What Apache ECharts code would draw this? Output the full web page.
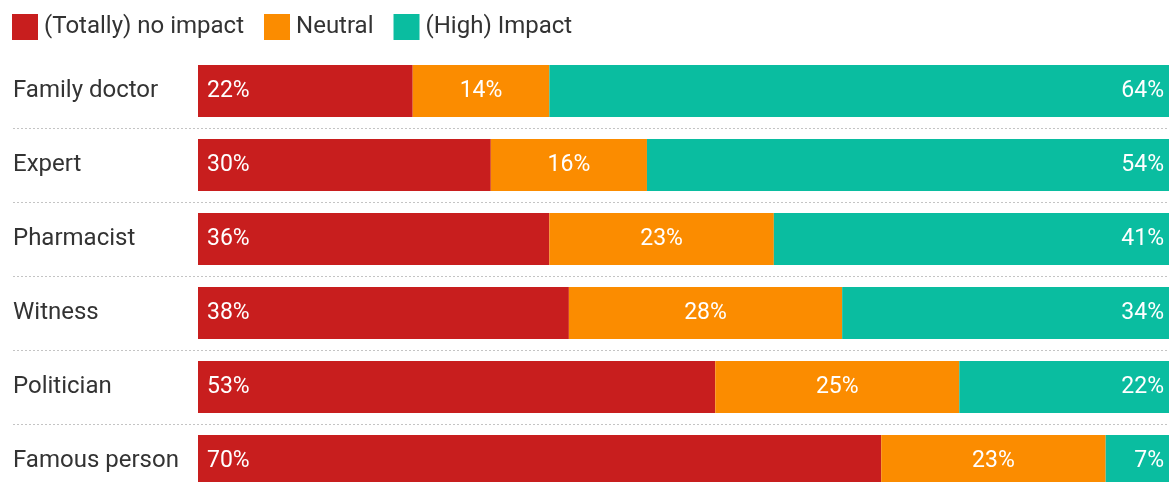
<!DOCTYPE html>
<html>
<head>
<meta charset="utf-8">
<script src="https://cdn.jsdelivr.net/npm/echarts@6/dist/echarts.min.js"></script>
<style>html,body{margin:0;padding:0;background:#fff;}#c{width:1169px;height:482px;}</style>
</head>
<body>
<div id="c"></div>
<script>
const categories = ['Family doctor', 'Expert', 'Pharmacist', 'Witness', 'Politician', 'Famous person'];
const seriesNames = ['(Totally) no impact', 'Neutral', '(High) Impact'];
const noImpact = [22, 30, 36, 38, 53, 70];
const neutral = [14, 16, 23, 28, 25, 23];
const highImpact = [64, 54, 41, 34, 22, 7];
const colors = ['#C81E1E', '#FB8C00', '#0ABDA0'];

const chart = echarts.init(document.getElementById('c'));
const FONT = 'Roboto';
const labelBase = { show: true, color: '#fff', fontFamily: FONT, fontSize: 23, formatter: '{c}%' };
chart.setOption({
  animation: false,
  textStyle: { fontFamily: FONT },
  legend: {
    left: 7, top: 9, itemWidth: 26, itemHeight: 26, itemGap: 20,
    icon: 'rect',
    textStyle: { fontSize: 24, color: '#333', fontFamily: FONT, padding: [0, 0, 0, 1] },
    data: seriesNames
  },
  grid: [
    { left: 198, right: -5, top: 54, height: 444, containLabel: false, outerBoundsMode: 'none' },
    { left: 13, right: 0, top: 54, height: 444, containLabel: false, outerBoundsMode: 'none' }
  ],
  xAxis: [
    { type: 'value', gridIndex: 0, min: 0, max: 100, show: false },
    { type: 'value', gridIndex: 1, min: 0, max: 100, show: false }
  ],
  yAxis: [
    {
      type: 'category', gridIndex: 0, data: categories, inverse: true,
      axisLine: { show: false }, axisTick: { show: false }, splitLine: { show: false },
      axisLabel: { show: false }
    },
    {
      type: 'category', gridIndex: 1, data: categories, inverse: true,
      axisLine: { show: false }, axisTick: { show: false },
      splitLine: { show: true, interval: function (i) { return i !== 0; }, lineStyle: { color: '#c4c4c4', width: 1, type: [2, 2] } },
      axisLabel: { show: true, inside: true, margin: 0, color: '#333', fontSize: 24, fontFamily: FONT, align: 'left' }
    }
  ],
  series: [
    {
      name: seriesNames[0], type: 'bar', stack: 's', data: noImpact, barWidth: 52,
      xAxisIndex: 0, yAxisIndex: 0, itemStyle: { color: colors[0] },
      label: Object.assign({}, labelBase, { position: 'insideLeft', distance: 9 })
    },
    {
      name: seriesNames[1], type: 'bar', stack: 's', data: neutral, barWidth: 52,
      xAxisIndex: 0, yAxisIndex: 0, itemStyle: { color: colors[1] },
      label: Object.assign({}, labelBase, { position: 'inside' })
    },
    {
      name: seriesNames[2], type: 'bar', stack: 's', data: highImpact, barWidth: 52,
      xAxisIndex: 0, yAxisIndex: 0, itemStyle: { color: colors[2] },
      label: Object.assign({}, labelBase, { position: 'insideRight', distance: 10 })
    }
  ]
});
</script>
</body>
</html>
